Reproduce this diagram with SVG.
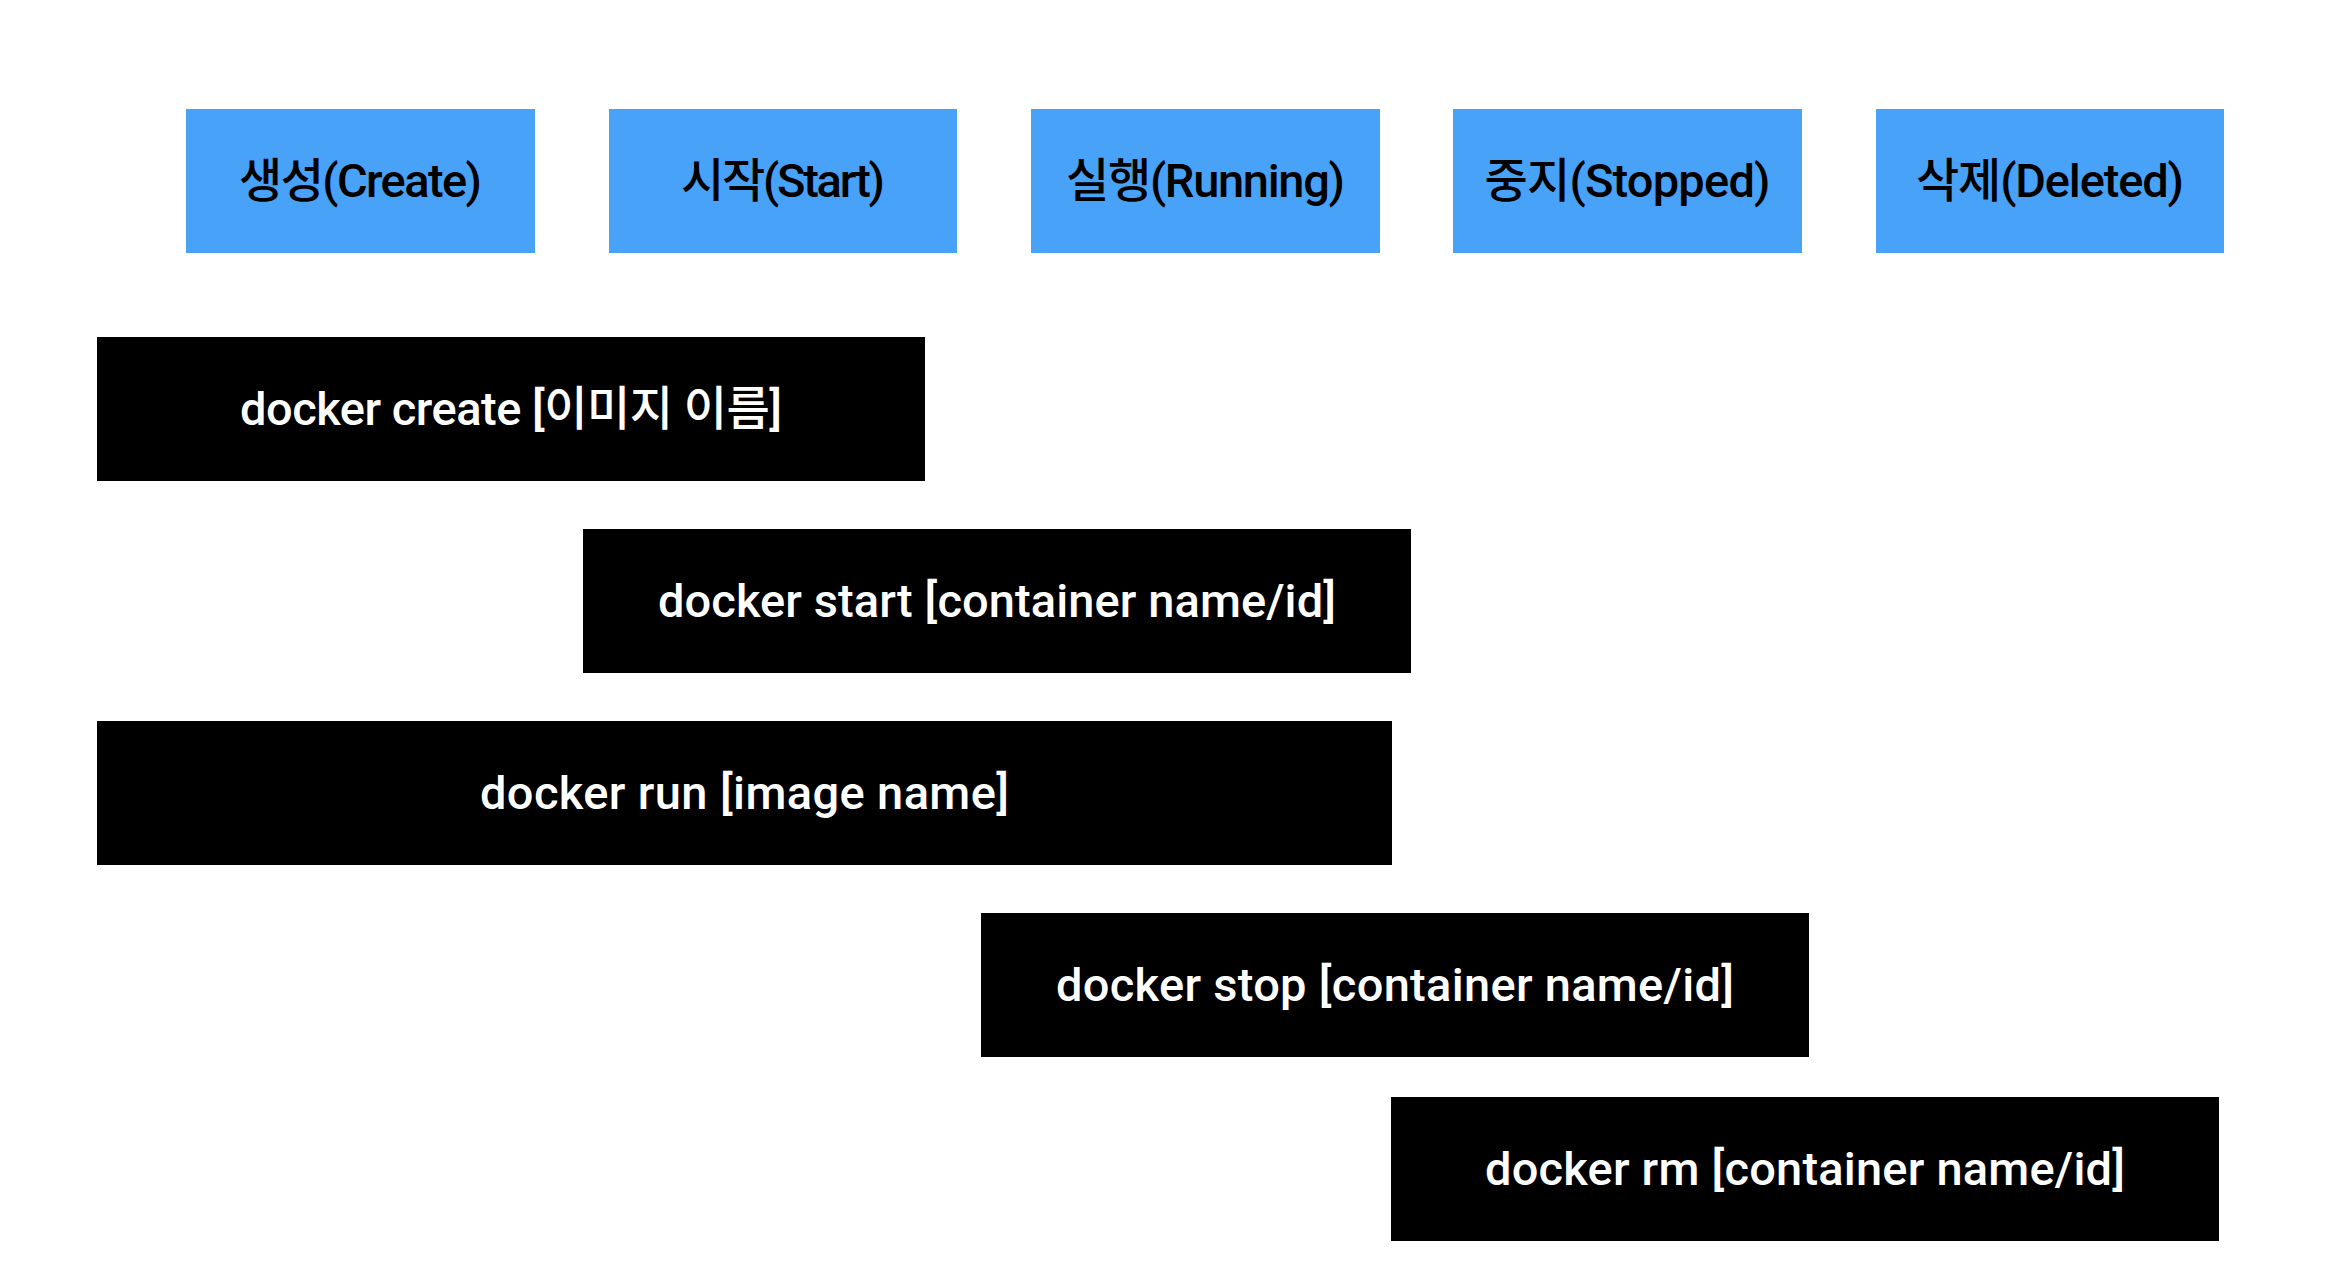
<svg xmlns="http://www.w3.org/2000/svg" width="2332" height="1286" viewBox="0 0 2332 1286">
<style>
.state rect{fill:#48a2f8}
.cmd rect{fill:#000}
text{font-family:Roboto,"Liberation Sans","Noto Sans CJK KR",sans-serif;font-weight:500;font-size:47px;text-anchor:middle}
.state text{fill:#000}
.cmd text{fill:#fff}
</style>
<rect width="2332" height="1286" fill="#fff"/>
<g id="connectors"/>
<g id="state-create" class="state"><rect x="186" y="109" width="349" height="144"/><text x="360.5" y="197" textLength="243">생성(Create)</text></g>
<g id="state-start" class="state"><rect x="609" y="109" width="348" height="144"/><text x="783" y="197" textLength="204">시작(Start)</text></g>
<g id="state-running" class="state"><rect x="1031" y="109" width="349" height="144"/><text x="1205.5" y="197" textLength="279">실행(Running)</text></g>
<g id="state-stopped" class="state"><rect x="1453" y="109" width="349" height="144"/><text x="1627.5" y="197" textLength="286">중지(Stopped)</text></g>
<g id="state-deleted" class="state"><rect x="1876" y="109" width="348" height="144"/><text x="2050" y="197" textLength="268">삭제(Deleted)</text></g>
<g id="cmd-create" class="cmd"><rect x="97" y="337" width="828" height="144"/><text x="511" y="425" textLength="542">docker create [이미지 이름]</text></g>
<g id="cmd-start" class="cmd"><rect x="583" y="529" width="828" height="144"/><text x="997" y="617" textLength="678">docker start [container name/id]</text></g>
<g id="cmd-run" class="cmd"><rect x="97" y="721" width="1295" height="144"/><text x="744.5" y="809" textLength="529">docker run [image name]</text></g>
<g id="cmd-stop" class="cmd"><rect x="981" y="913" width="828" height="144"/><text x="1395" y="1001" textLength="678">docker stop [container name/id]</text></g>
<g id="cmd-rm" class="cmd"><rect x="1391" y="1097" width="828" height="144"/><text x="1805" y="1185" textLength="640">docker rm [container name/id]</text></g>
</svg>
